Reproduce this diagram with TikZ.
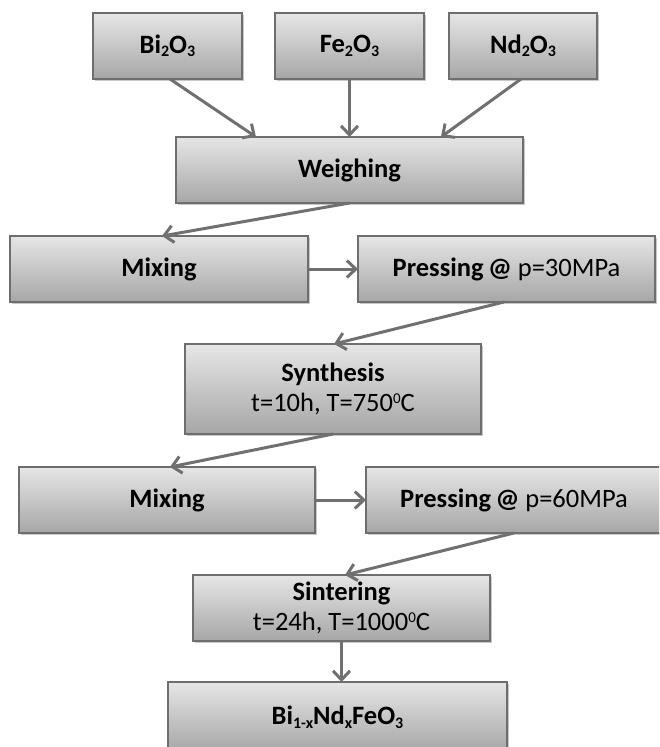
\documentclass[tikz,border=0pt]{standalone}
\usepackage{fontspec}
\setmainfont{Carlito}
\usetikzlibrary{arrows.meta,shadows,calc}
\definecolor{boxtop}{HTML}{E6E6E6}
\definecolor{boxbot}{HTML}{A6A6A6}
\definecolor{boxline}{HTML}{6E6E6E}
\definecolor{arr}{HTML}{707070}
\newcommand{\lsub}[1]{\raisebox{-3.5pt}{\fontsize{16}{16}\selectfont #1}}
\newcommand{\lsup}[1]{\raisebox{8pt}{\fontsize{15}{15}\selectfont #1}}
\begin{document}
\begin{tikzpicture}[x=1pt,y=-1pt,
  pbox/.style={draw=boxline, line width=1.2pt, top color=boxtop, bottom color=boxbot,
    drop shadow={shadow xshift=2pt, shadow yshift=-2pt, fill=black, opacity=0.22},
    inner sep=0pt, outer sep=0pt, align=center,
    font=\fontsize{26.5}{30}\selectfont},
  conn/.style={draw=arr, line width=3pt,
    -{Straight Barb[length=9pt,width=17pt,line width=3pt]}}]
\useasboundingbox (0,0) rectangle (659,747);
\clip (0,0) rectangle (659,747);
% boxes
\node[pbox, minimum width=149pt, minimum height=66pt] (bi) at (167.5,46) {\bfseries Bi\lsub{2}O\lsub{3}};
\node[pbox, minimum width=149pt, minimum height=66pt] (fe) at (349.5,46) {\bfseries Fe\lsub{2}O\lsub{3}};
\node[pbox, minimum width=148pt, minimum height=66pt] (nd) at (523,46) {\bfseries Nd\lsub{2}O\lsub{3}};
\node[pbox, minimum width=347pt, minimum height=66pt] (weigh) at (349.5,170) {\bfseries Weighing};
\node[pbox, minimum width=298pt, minimum height=66pt] (mix1) at (159,269) {\bfseries Mixing};
\node[pbox, minimum width=297pt, minimum height=66pt] (press1) at (506.5,269) {{\bfseries Pressing\,@} p=30MPa};
\node[pbox, minimum width=296pt, minimum height=90pt] (synth) at (333,389) {{\bfseries Synthesis}\\t=10h, T=750\lsup{0}C};
\node[pbox, minimum width=296pt, minimum height=66pt] (mix2) at (167,500) {\bfseries Mixing};
\node[pbox, minimum width=296pt, minimum height=66pt] (press2) at (514,500) {{\bfseries Pressing\,@} p=60MPa};
\node[pbox, minimum width=297pt, minimum height=66pt] (sinter) at (341.5,608) {{\bfseries Sintering}\\t=24h, T=1000\lsup{0}C};
\node[pbox, minimum width=339pt, minimum height=70pt] (final) at (337.5,717) {\bfseries Bi\lsub{1-x}Nd\lsub{x}FeO\lsub{3}};
% connectors
\draw[conn] ([xshift=2.5pt]bi.south) -- ([xshift=-93.5pt]weigh.north);
\draw[conn] (fe.south) -- (weigh.north);
\draw[conn] ([xshift=-2pt]nd.south) -- ([xshift=91.5pt]weigh.north);
\draw[conn] (weigh.south) -- ([xshift=3pt]mix1.north);
\draw[conn] (mix1.east) -- (press1.west);
\draw[conn] ([xshift=-2.5pt]press1.south) -- ([xshift=1pt]synth.north);
\draw[conn] (synth.south) -- ([xshift=3pt]mix2.north);
\draw[conn] (mix2.east) -- (press2.west);
\draw[conn] (press2.south) -- ([xshift=3.5pt]sinter.north);
\draw[conn] (sinter.south) -- (sinter.south |- final.north);
\end{tikzpicture}
\end{document}
